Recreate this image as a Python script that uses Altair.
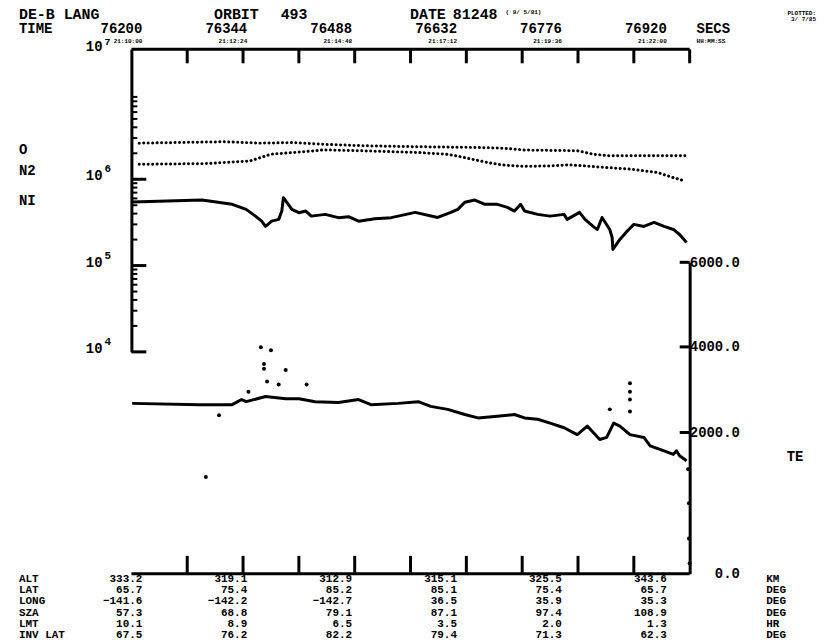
import altair as alt
import pandas as pd

# ---------------- data ----------------
col_times = [76200, 76344, 76488, 76632, 76776, 76920]
hms_labels = ["21:10:00", "21:12:24", "21:14:48", "21:17:12", "21:19:36", "21:22:00"]
top_tick_times = [76272, 76344, 76416, 76488, 76560, 76632, 76704, 76776, 76848, 76920]
bottom_tick_times = [76272, 76344, 76416, 76488, 76560, 76632, 76704, 76776, 76848]

o_t = [76210, 76319, 76367, 76408, 76448, 76503, 76571, 76639, 76680, 76707, 76775, 76796, 76816, 76914]
o_n = [2.62e6, 2.72e6, 2.62e6, 2.66e6, 2.54e6, 2.44e6, 2.38e6, 2.34e6, 2.29e6, 2.18e6, 2.14e6, 1.95e6, 1.87e6, 1.87e6]

n2_t = [76210, 76298, 76332, 76353, 76367, 76380, 76408, 76435, 76448, 76503, 76571, 76606, 76619,
        76639, 76660, 76680, 76707, 76742, 76763, 76784, 76811, 76844, 76878, 76898, 76914]
n2_n = [1.49e6, 1.52e6, 1.59e6, 1.63e6, 1.79e6, 1.95e6, 2.04e6, 2.13e6, 2.19e6, 2.13e6, 2.04e6, 1.95e6, 1.87e6,
        1.71e6, 1.56e6, 1.46e6, 1.41e6, 1.43e6, 1.47e6, 1.43e6, 1.37e6, 1.31e6, 1.20e6, 1.05e6, 0.955e6]

n1_t = [76201, 76291, 76330, 76348, 76360, 76368, 76373, 76381, 76390, 76394, 76396, 76407, 76416, 76425,
        76432, 76450, 76467, 76480, 76493, 76514, 76535, 76544, 76566, 76595, 76612, 76621, 76630, 76643,
        76656, 76672, 76685, 76694, 76702, 76707, 76724, 76740, 76758, 76762, 76778, 76785, 76797, 76801,
        76807, 76817, 76820, 76821, 76830, 76839, 76848, 76861, 76874, 76887, 76899, 76907, 76916]
n1_n = [5.45e5, 5.74e5, 5.12e5, 4.48e5, 3.74e5, 3.27e5, 2.85e5, 3.27e5, 3.43e5, 4.28e5, 6.12e5, 4.48e5,
        4.10e5, 4.28e5, 3.74e5, 3.92e5, 3.59e5, 3.68e5, 3.27e5, 3.49e5, 3.59e5, 3.74e5, 4.13e5, 3.61e5,
        4.13e5, 4.48e5, 5.41e5, 5.74e5, 5.12e5, 5.12e5, 4.72e5, 4.28e5, 5.12e5, 4.28e5, 3.92e5, 3.74e5,
        3.92e5, 3.43e5, 4.13e5, 3.43e5, 2.77e5, 2.62e5, 3.61e5, 2.62e5, 2.12e5, 1.54e5, 2.01e5, 2.48e5,
        3.00e5, 2.84e5, 3.16e5, 2.84e5, 2.62e5, 2.29e5, 1.85e5]

te_t = [76201, 76287, 76330, 76342, 76348, 76373, 76399, 76416, 76437, 76467, 76493, 76509, 76544,
        76570, 76586, 76608, 76630, 76647, 76672, 76694, 76707, 76724, 76740, 76758, 76775, 76788,
        76804, 76813, 76822, 76830, 76843, 76861, 76869, 76887, 76899, 76903, 76907, 76916]
te_v = [2680, 2650, 2650, 2770, 2720, 2840, 2790, 2790, 2720, 2700, 2770, 2650, 2680,
        2720, 2610, 2540, 2420, 2340, 2380, 2420, 2340, 2310, 2220, 2110, 1970, 2150,
        1900, 1930, 2220, 2150, 1970, 1930, 1810, 1740, 1690, 1740, 1670, 1600]

te_pts_t = [76367, 76380, 76371, 76371, 76399, 76375, 76390, 76426, 76351, 76313, 76296,
            76843, 76843, 76843, 76843, 76817, 76918, 76919, 76919, 76920]
te_pts_v = [3990, 3920, 3600, 3490, 3460, 3190, 3120, 3120, 2950, 2400, 1370,
            3150, 2950, 2770, 2490, 2540, 1480, 1000, 500, 150]

row_names = ["ALT", "LAT", "LONG", "SZA", "LMT", "INV LAT"]
row_units = ["KM", "DEG", "DEG", "DEG", "HR", "DEG"]
alt_row = [333.2, 319.1, 312.9, 315.1, 325.5, 343.6]
lat_row = [65.7, 75.4, 85.2, 85.1, 75.4, 65.7]
long_row = [-141.6, -142.2, -142.7, 36.5, 35.9, 35.3]
sza_row = [57.3, 68.8, 79.1, 87.1, 97.4, 108.9]
lmt_row = [10.1, 8.9, 6.5, 3.5, 2.0, 1.3]
invlat_row = [67.5, 76.2, 82.2, 79.4, 71.3, 62.3]

dens_tick_major = [1e4, 1e5, 1e6]
dens_tick_minor = [m * 10 ** k for k in (4, 5, 6) for m in range(2, 10)]
dens_label_values = [1e4, 1e5, 1e6]
dens_label_exps = ["4", "5", "6"]
te_axis_values = [0, 2000, 4000, 6000]
te_ticks = [2000, 4000, 6000]

# ---------------- layout ----------------
W, H = 561, 527
FONT = "Liberation Mono"
FS = 14
TFS = 11
DENS_TOP = 3.2e7

xs = alt.Scale(domain=[76200, 76920], nice=False, zero=False)
cols = alt.Scale(type="point", domain=[str(c) for c in col_times], range=[11, 538], padding=0)
dens = alt.Scale(type="log", domain=[1e4, DENS_TOP], range=[304, 0], nice=False)
tes = alt.Scale(domain=[0, 2000, 4000, 6000], range=[H, 385, 299, 214], nice=False, zero=False)
rows_y = alt.Scale(type="point", domain=row_names, range=[532, 589], padding=0)


def X():
    return alt.X("t:Q", scale=xs, axis=None)


def txt(**kw):
    base = dict(font=FONT, fontSize=FS, fontWeight="bold", color="black", baseline="middle")
    base.update(kw)
    return base


def static(label, x, y, size=FS, align="left"):
    return alt.Chart(pd.DataFrame({"label": [label]})).mark_text(
        **txt(fontSize=size, align=align)
    ).encode(x=alt.value(x), y=alt.value(y), text="label:N")


dotted_df = pd.DataFrame({
    "t": o_t + n2_t,
    "n": o_n + n2_n,
    "species": ["O"] * len(o_t) + ["N2"] * len(n2_t),
})
n1_df = pd.DataFrame({"t": n1_t, "n": n1_n})
te_df = pd.DataFrame({"t": te_t, "te": te_v})
te_pts_df = pd.DataFrame({"t": te_pts_t, "te": te_pts_v})

left_axis = alt.Axis(orient="left", labels=False, ticks=False, grid=False, domain=True,
                     domainColor="black", domainWidth=3, title=None)
right_axis = alt.Axis(orient="right", values=te_axis_values, format=".1f", ticks=False,
                      tickSize=0, grid=False, domain=True, domainColor="black", domainWidth=3,
                      labelAlign="right", labelBaseline="middle", labelPadding=50,
                      labelFont=FONT, labelFontSize=FS, labelFontWeight="bold", labelColor="black",
                      labelOverlap=False, labelFlush=False,
                      title="TE", titleAngle=0, titleX=97, titleY=409, titleAlign="left",
                      titleBaseline="middle", titleFont=FONT, titleFontSize=FS,
                      titleFontWeight="bold", titleColor="black")

dotted = alt.Chart(dotted_df).mark_line(
    color="black", strokeWidth=3, strokeDash=[0.1, 4.4], strokeCap="round"
).encode(x=X(), y=alt.Y("n:Q", scale=dens, axis=left_axis), detail="species:N")

n1_line = alt.Chart(n1_df).mark_line(color="black", strokeWidth=3, strokeJoin="round").encode(
    x=X(), y=alt.Y("n:Q", scale=dens, axis=None))

te_line = alt.Chart(te_df).mark_line(color="black", strokeWidth=3, strokeJoin="round").encode(
    x=X(), y=alt.Y("te:Q", scale=tes, axis=right_axis))

te_pts = alt.Chart(te_pts_df).mark_circle(color="black", size=16, opacity=1).encode(
    x=X(), y=alt.Y("te:Q", scale=tes, axis=None))

# frame lines and inward ticks
frame_df = pd.DataFrame({"a": [0]})
top_frame = alt.Chart(frame_df).mark_rule(color="black", strokeWidth=3).encode(
    x=alt.X(datum=76200, type="quantitative", scale=xs, axis=None), x2=alt.datum(76920), y=alt.value(0))
bottom_frame = alt.Chart(frame_df).mark_rule(color="black", strokeWidth=3).encode(
    x=alt.X(datum=76200, type="quantitative", scale=xs, axis=None), x2=alt.datum(76920), y=alt.value(H))

top_ticks = alt.Chart(pd.DataFrame({"t": top_tick_times})).mark_rule(color="black", strokeWidth=3).encode(
    x=X(), y=alt.value(0), y2=alt.value(14))
bottom_ticks = alt.Chart(pd.DataFrame({"t": bottom_tick_times})).mark_rule(color="black", strokeWidth=3).encode(
    x=X(), y=alt.value(H - 18), y2=alt.value(H))

left_major = alt.Chart(pd.DataFrame({"n": dens_tick_major})).mark_rule(color="black", strokeWidth=3).encode(
    y=alt.Y("n:Q", scale=dens, axis=None), x=alt.value(0), x2=alt.value(15))
left_minor = alt.Chart(pd.DataFrame({"n": dens_tick_minor})).mark_rule(color="black", strokeWidth=2).encode(
    y=alt.Y("n:Q", scale=dens, axis=None), x=alt.value(0), x2=alt.value(6))
right_ticks = alt.Chart(pd.DataFrame({"te": te_ticks})).mark_rule(color="black", strokeWidth=3).encode(
    y=alt.Y("te:Q", scale=tes, axis=None), x=alt.value(W - 10), x2=alt.value(W))

# left axis labels 10^k
exp_df = pd.DataFrame({"n": dens_label_values, "e": dens_label_exps})
ten_lab = alt.Chart(exp_df).mark_text(**txt(align="right", dy=-3)).encode(
    y=alt.Y("n:Q", scale=dens, axis=None), x=alt.value(-29), text=alt.value("10"))
exp_lab = alt.Chart(exp_df).mark_text(**txt(align="left", fontSize=11, dy=-10)).encode(
    y=alt.Y("n:Q", scale=dens, axis=None), x=alt.value(-27), text="e:N")
top_df = pd.DataFrame({"n": [DENS_TOP], "e": ["7"]})
ten_top = alt.Chart(top_df).mark_text(**txt(align="right", dy=-2)).encode(
    y=alt.Y("n:Q", scale=dens, axis=None), x=alt.value(-29), text=alt.value("10"))
exp_top = alt.Chart(top_df).mark_text(**txt(align="left", fontSize=10, dy=-7)).encode(
    y=alt.Y("n:Q", scale=dens, axis=None), x=alt.value(-27), text="e:N")

# species labels next to the start of each curve
sp_df = pd.DataFrame({"sp": ["O", "N2"], "n": [o_n[0], n2_n[0]]})
sp_lab = alt.Chart(sp_df).mark_text(**txt(align="left", dy=7)).encode(
    y=alt.Y("n:Q", scale=dens, axis=None), x=alt.value(-113), text="sp:N")
ni_df = pd.DataFrame({"sp": ["NI"], "n": [n1_n[0]]})
ni_lab = alt.Chart(ni_df).mark_text(**txt(align="left", dy=-1)).encode(
    y=alt.Y("n:Q", scale=dens, axis=None), x=alt.value(-113), text="sp:N")

# time labels (typed in fixed columns, like the table)
tl_df = pd.DataFrame({"c": [str(c) for c in col_times], "hms": hms_labels})
time_lab = alt.Chart(tl_df).mark_text(**txt(align="right")).encode(
    x=alt.X("c:N", scale=cols, axis=None), y=alt.value(-20), text="c:N")
hms_lab = alt.Chart(tl_df).mark_text(**txt(align="right", fontSize=6)).encode(
    x=alt.X("c:N", scale=cols, axis=None), y=alt.value(-8), text="hms:N")

# bottom table
all_rows = [alt_row, lat_row, long_row, sza_row, lmt_row, invlat_row]
tab_df = pd.DataFrame({
    "row": [r for r in row_names for _ in col_times],
    "c": [str(c) for c in col_times] * len(row_names),
    "v": [v for vals in all_rows for v in vals],
})
tab_vals = alt.Chart(tab_df).mark_text(**txt(align="right", fontSize=TFS)).encode(
    x=alt.X("c:N", scale=cols, axis=None), y=alt.Y("row:N", scale=rows_y, axis=None),
    text=alt.Text("v:Q", format=".1f"))
rn_df = pd.DataFrame({"row": row_names, "unit": row_units})
tab_names = alt.Chart(rn_df).mark_text(**txt(align="left", fontSize=TFS)).encode(
    x=alt.value(-113), y=alt.Y("row:N", scale=rows_y, axis=None), text="row:N")
tab_units = alt.Chart(rn_df).mark_text(**txt(align="left", fontSize=TFS)).encode(
    x=alt.value(638), y=alt.Y("row:N", scale=rows_y, axis=None), text="unit:N")

header = [
    static("DE-B LANG", -113, -36, size=15),
    static("ORBIT", 83, -36, size=15),
    static("493", 150, -36, size=15),
    static("DATE", 280, -36, size=15),
    static("81248", 323, -36, size=15),
    static("( 9/ 5/81)", 376, -38, size=6),
    static("PLOTTED:", 688, -37, size=6, align="right"),
    static("3/ 7/85", 688, -30, size=6, align="right"),
    static("TIME", -113, -20),
    static("SECS", 568, -20),
    static("HH:MM:SS", 568, -8, size=6),
]

chart = alt.layer(
    dotted, n1_line, te_line, te_pts,
    top_frame, bottom_frame, top_ticks, bottom_ticks,
    left_major, left_minor, right_ticks,
    ten_lab, exp_lab, ten_top, exp_top, sp_lab, ni_lab, time_lab, hms_lab,
    tab_vals, tab_names, tab_units,
    *header,
).resolve_scale(x="independent", y="independent").properties(
    width=W, height=H,
    autosize=alt.AutoSizeParams(type="none"),
    padding={"left": 124, "top": 40, "right": 135, "bottom": 69},
    background="white",
).configure_view(stroke=None)

chart.save("out.html", embed_options={"renderer": "svg", "actions": False})
